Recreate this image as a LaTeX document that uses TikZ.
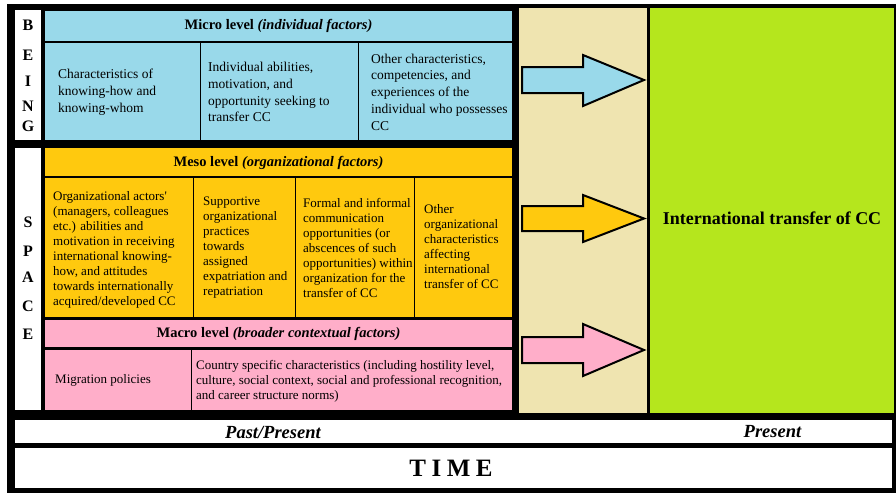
\documentclass[tikz,border=0pt]{standalone}
\usepackage{fontspec}
\setmainfont{Liberation Serif}
\definecolor{microc}{RGB}{153,217,234}
\definecolor{mesoc}{RGB}{255,201,14}
\definecolor{macroc}{RGB}{255,174,201}
\definecolor{beigec}{RGB}{239,228,176}
\definecolor{limec}{RGB}{181,230,29}
\begin{document}
\begin{tikzpicture}[x=1pt,y=-1pt,
  txt/.style={inner sep=0pt, anchor=west, align=left, font=\fontsize{13}{15}\selectfont},
  mtxt/.style={inner sep=0pt, anchor=west, align=left, font=\fontsize{13.5}{16.8}\selectfont},
  hdr/.style={inner sep=0pt, font=\fontsize{14.5}{17}\selectfont\bfseries},
  letter/.style={inner sep=0pt, font=\fontsize{16}{18}\selectfont\bfseries},
  blockarrow/.style={draw=black, line width=2pt, line join=miter, miter limit=10}]
\useasboundingbox (0,0) rectangle (896,495);
\fill[white] (0,0) rectangle (896,495);
\fill[black] (7,4) rectangle (896,493);
% letter columns
\fill[white] (15,10) rectangle (41,140);
\fill[white] (15,148) rectangle (41,410);
% micro level
\fill[microc] (44.5,11) rectangle (512,41);
\fill[microc] (44.5,43) rectangle (199.5,140);
\fill[microc] (200.8,43) rectangle (357.5,140);
\fill[microc] (358.8,43) rectangle (512,140);
% meso level
\fill[mesoc] (44.5,148) rectangle (512,175.5);
\fill[mesoc] (44.5,177.5) rectangle (192.5,316.5);
\fill[mesoc] (193.8,177.5) rectangle (294.5,316.5);
\fill[mesoc] (295.8,177.5) rectangle (413.5,316.5);
\fill[mesoc] (414.8,177.5) rectangle (512,316.5);
% macro level
\fill[macroc] (44.5,320) rectangle (512,347);
\fill[macroc] (44.5,349.5) rectangle (190.5,410);
\fill[macroc] (191.8,349.5) rectangle (512,410);
% right columns
\fill[beigec] (519,8) rectangle (647,413);
\fill[limec] (650,8) rectangle (894,413);
% time bars
\fill[white] (15,420) rectangle (892,443);
\fill[white] (15,448) rectangle (892,488);

% letters
\node[letter] (b1) at (28,25.3) {B};
\node[letter] (b2) at (28,55.3) {E};
\node[letter] (b3) at (28,81) {I};
\node[letter] (b4) at (28,105.8) {N};
\node[letter] (b5) at (28,126) {G};
\node[letter] (s1) at (28,222) {S};
\node[letter] (s2) at (28,250.8) {P};
\node[letter] (s3) at (28,277) {A};
\node[letter] (s4) at (28,306.7) {C};
\node[letter] (s5) at (28,334) {E};

% headers
\node[hdr] (microh) at (278.5,26) {Micro level \textit{(individual factors)}};
\node[hdr] (mesoh) at (278.5,162.5) {Meso level \textit{(organizational factors)}};
\node[hdr] (macroh) at (278.5,333.5) {Macro level \textit{(broader contextual factors)}};

% micro cells
\node[mtxt] (mi1) at (58,92) {Characteristics of\\knowing-how and\\knowing-whom};
\node[mtxt] (mi2) at (208,92) {Individual abilities,\\motivation, and\\opportunity seeking to\\transfer CC};
\node[mtxt] (mi3) at (371,92) {Other characteristics,\\competencies, and\\experiences of the\\individual who possesses\\CC};

% meso cells
\node[txt] (me1) at (53,250) {Organizational actors\textquotesingle\\(managers, colleagues\\etc.) abilities and\\motivation in receiving\\international knowing-\\how, and attitudes\\towards internationally\\acquired/developed CC};
\node[txt] (me2) at (203,248) {Supportive\\organizational\\practices\\towards\\assigned\\expatriation and\\repatriation};
\node[txt] (me3) at (303,248) {Formal and informal\\communication\\opportunities (or\\abscences of such\\opportunities) within\\organization for the\\transfer of CC};
\node[txt] (me4) at (424,246.5) {Other\\organizational\\characteristics\\affecting\\international\\transfer of CC};

% macro cells
\node[txt] (ma1) at (55,380) {Migration policies};
\node[txt] (ma2) at (196,381.5) {Country specific characteristics (including hostility level,\\culture, social context, social and professional recognition,\\and career structure norms)};

% arrows
\draw[blockarrow, fill=microc] (522,67) -- (583,67) -- (583,55) -- (644,80) -- (583,106) -- (583,93) -- (522,93) -- cycle;
\draw[blockarrow, fill=mesoc] (522,206) -- (583,206) -- (583,195) -- (644,218.5) -- (583,242) -- (583,231) -- (522,231) -- cycle;
\draw[blockarrow, fill=macroc] (522,337) -- (583,337) -- (583,324) -- (644,350) -- (583,376) -- (583,363) -- (522,363) -- cycle;

% result
\node[inner sep=0pt, font=\fontsize{18}{21}\selectfont\bfseries] (itcc) at (772,218) {International transfer of CC};

% time
\node[inner sep=0pt, font=\fontsize{18.5}{21}\selectfont\bfseries\itshape] (past) at (273,432) {Past/Present};
\node[inner sep=0pt, font=\fontsize{18.5}{21}\selectfont\bfseries\itshape] (pres) at (772.5,432) {Present};
\node[inner sep=0pt, font=\fontsize{25}{28}\selectfont\bfseries] (time) at (451,468.5) {T\hspace{5.5pt}I\hspace{5.5pt}M\hspace{5.5pt}E};
\end{tikzpicture}
\end{document}
